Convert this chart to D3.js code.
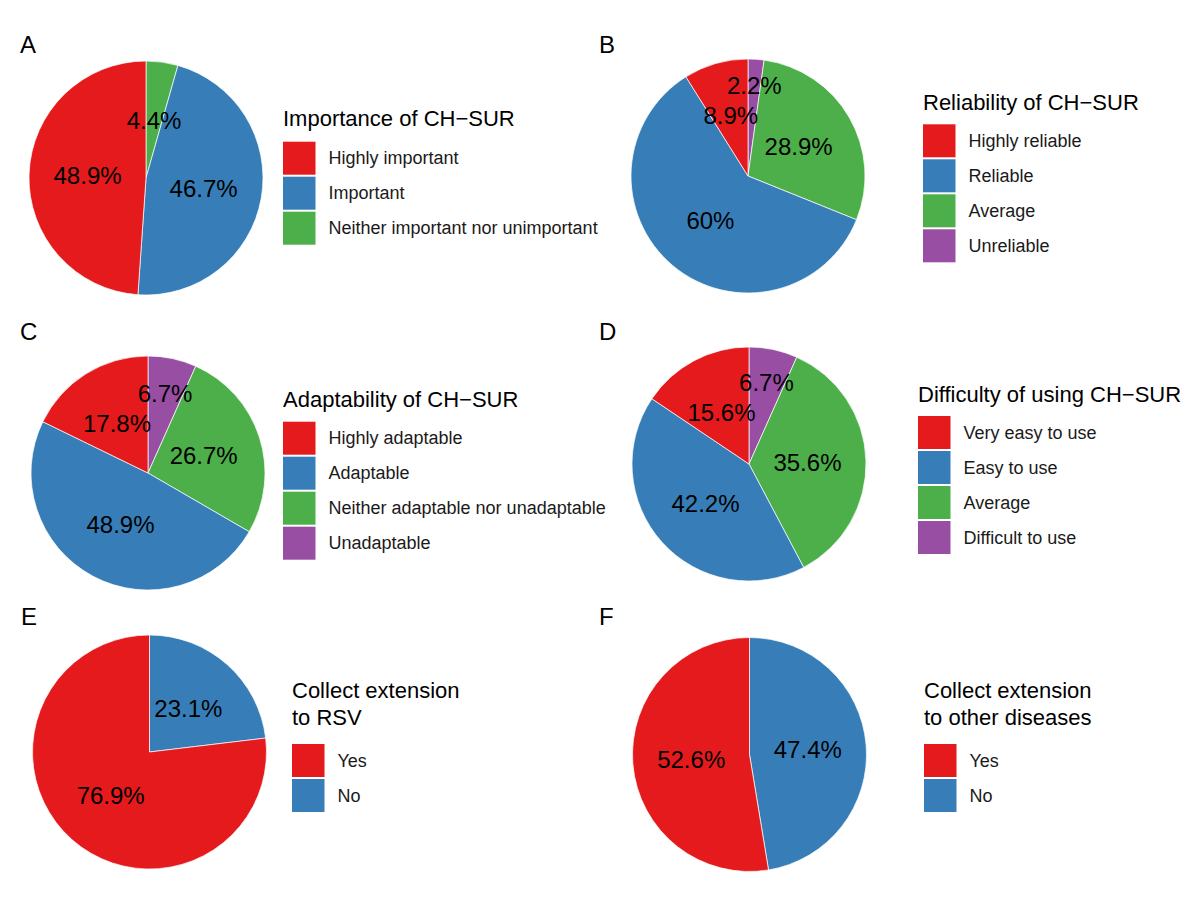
<!DOCTYPE html>
<html>
<head>
<meta charset="utf-8">
<script src="https://cdn.jsdelivr.net/npm/d3@7"></script>
<style>
body{margin:0;background:#fff;}
text{font-family:"Liberation Sans",Arial,Helvetica,sans-serif;}
</style>
</head>
<body>
<div id="chart"></div>
<script>
// survey answers, in legend order
var catsA = ["Highly important","Important","Neither important nor unimportant"];
var valsA = [48.9,46.7,4.4];
var catsB = ["Highly reliable","Reliable","Average","Unreliable"];
var valsB = [8.9,60,28.9,2.2];
var catsC = ["Highly adaptable","Adaptable","Neither adaptable nor unadaptable","Unadaptable"];
var valsC = [17.8,48.9,26.7,6.7];
var catsD = ["Very easy to use","Easy to use","Average","Difficult to use"];
var valsD = [15.6,42.2,35.6,6.7];
var catsE = ["Yes","No"];
var valsE = [76.9,23.1];
var catsF = ["Yes","No"];
var valsF = [52.6,47.4];

var titles = [["Importance of CH\u2212SUR"],["Reliability of CH\u2212SUR"],["Adaptability of CH\u2212SUR"],
	["Difficulty of using CH\u2212SUR"],["Collect extension","to RSV"],["Collect extension","to other diseases"]];
var tags = ["A","B","C","D","E","F"];

var set1 = ["#E41A1C","#377EB8","#4DAF4A","#984EA3"];

// where each panel sits on the page
var layout = [
	{tx:20, ty:53, cx:146, cy:178, lx:283, kt:141.7, tb:[126]},
	{tx:599,ty:53, cx:748, cy:176, lx:923, kt:124.3, tb:[110]},
	{tx:20, ty:340,cx:148, cy:473, lx:283, kt:421.7, tb:[407.3]},
	{tx:599,ty:340,cx:749, cy:464, lx:918, kt:416, tb:[401.7]},
	{tx:21, ty:625,cx:149.5,cy:752,lx:292, kt:744, tb:[698.3,725]},
	{tx:599,ty:625,cx:749.5,cy:754.5,lx:924,kt:744, tb:[698.3,725]}
];

var R = 117, step = 35;

var svg = d3.select("#chart")
	.append("svg")
	.attr("width",1200)
	.attr("height",908);

function overlaps(a,b,pad){
	return !(a.x+a.w+pad < b.x || b.x+b.w+pad < a.x || a.y+a.h+pad < b.y || b.y+b.h+pad < a.y);
}

function piepanel(i,cats,vals){
	var L = layout[i];
	var color = d3.scaleOrdinal().domain(cats).range(set1);
	var g = svg.append("g");

	g.append("text")
		.attr("x",L.tx)
		.attr("y",L.ty)
		.attr("font-size",24)
		.text(tags[i]);

	// ggplot stacks the last level first, clockwise from 12 o'clock
	var rows = cats.map(function(c,k){ return {cat:c,val:vals[k]}; }).reverse();
	var arcs = d3.pie().sort(null).value(function(d){ return d.val; })(rows);
	var arc = d3.arc().innerRadius(0).outerRadius(R);

	var pg = g.append("g").attr("transform","translate("+L.cx+","+L.cy+")");
	pg.selectAll("path")
		.data(arcs)
		.enter()
		.append("path")
		.attr("d",arc)
		.attr("fill",function(d){ return color(d.data.cat); })
		.attr("stroke","#fff")
		.attr("stroke-width",0.7);

	// labels: biggest first, small ones slide outward until they are clear
	var order = arcs.slice().sort(function(a,b){ return b.data.val-a.data.val; });
	var placed = [];
	order.forEach(function(d){
		var t = pg.append("text")
			.attr("text-anchor","middle")
			.attr("dominant-baseline","central")
			.attr("font-size",24)
			.text(d.data.val+"%");
		var w = t.node().getBBox().width, h = 22;
		var mid = (d.startAngle+d.endAngle)/2;
		var r = R*0.5, box;
		for(var n=0;n<80;n++){
			var x = r*Math.sin(mid), y = -r*Math.cos(mid);
			box = {x:x-w/2, y:y-h/2, w:w, h:h, cx:x, cy:y};
			var hit = placed.some(function(p){ return overlaps(box,p,8); });
			if(!hit) break;
			r += 1;
		}
		placed.push(box);
		t.attr("x",box.cx).attr("y",box.cy);
	});

	// legend
	L.tb.forEach(function(b,k){
		g.append("text")
			.attr("x",L.lx)
			.attr("y",b)
			.attr("font-size",22)
			.text(titles[i][k]);
	});
	var key = d3.scaleBand().domain(cats).range([L.kt,L.kt+step*cats.length]);
	var lg = g.selectAll(".key")
		.data(cats)
		.enter()
		.append("g");
	lg.append("rect")
		.attr("x",L.lx)
		.attr("y",function(d){ return key(d); })
		.attr("width",32.5)
		.attr("height",step-2)
		.attr("fill",function(d){ return color(d); });
	lg.append("text")
		.attr("x",L.lx+45.5)
		.attr("y",function(d){ return key(d)+(step-2)/2; })
		.attr("dominant-baseline","central")
		.attr("font-size",18)
		.attr("fill","#1a1a1a")
		.text(function(d){ return d; });
}

piepanel(0,catsA,valsA);
piepanel(1,catsB,valsB);
piepanel(2,catsC,valsC);
piepanel(3,catsD,valsD);
piepanel(4,catsE,valsE);
piepanel(5,catsF,valsF);
</script>
</body>
</html>
